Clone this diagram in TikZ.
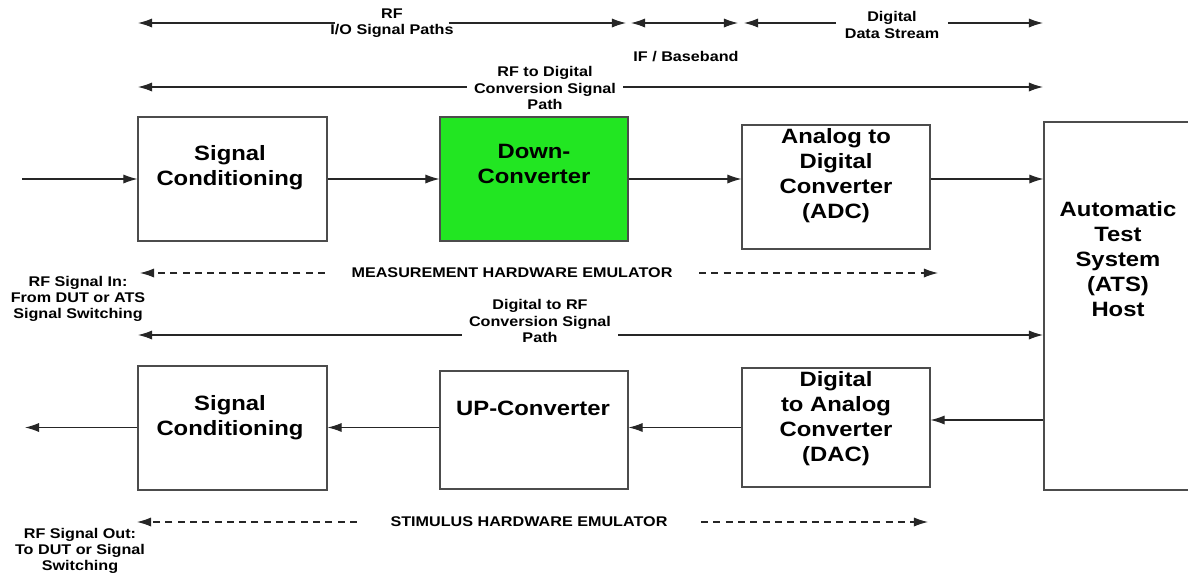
\documentclass[tikz,border=0pt]{standalone}
\usepackage{fontspec}
\setmainfont{Liberation Sans}[FakeStretch=1.15]
\usetikzlibrary{arrows.meta,calc}
\definecolor{dcgreen}{HTML}{22E622}
\begin{document}
\begin{tikzpicture}[x=0.02cm,y=-0.02cm,
  box/.style={draw=black!70,line width=0.7pt,rectangle,inner sep=0pt},
  boxtext/.style={font=\fontsize{11.8}{14.2}\selectfont\bfseries,align=center,inner sep=0pt},
  smalltxt/.style={font=\fontsize{8}{9.2}\selectfont\bfseries,align=center,inner sep=0pt},
  flow/.style={draw=black!85,line width=0.6pt,-{Latex[length=8pt,width=5.2pt]}},
  dimline/.style={draw=black!85,line width=0.6pt,-{Latex[length=8pt,width=5.2pt]}},
  dimboth/.style={draw=black!85,line width=0.6pt,{Latex[length=8pt,width=5.2pt]}-{Latex[length=8pt,width=5.2pt]}},
  dashedarrow/.style={dimline,dash pattern=on 4pt off 3pt},
]
\useasboundingbox (0,0) rectangle (1188,579);
\clip (0,0) rectangle (1188,579);

% boxes
\node[box,minimum width=3.78cm,minimum height=2.48cm] (sc1) at (232.5,179) {};
\node[boxtext] (sc1t) at (230,168) {Signal\\Conditioning};
\node[box,fill=dcgreen,minimum width=3.76cm,minimum height=2.48cm] (dc) at (534,179) {};
\node[boxtext] (dct) at (534,164) {Down-\\Converter};
\node[box,minimum width=3.76cm,minimum height=2.48cm] (adc) at (836,187) {};
\node[boxtext] (adct) at (836,176) {Analog to\\Digital\\Converter\\(ADC)};
\node[box,minimum width=3.04cm,minimum height=7.36cm] (ats) at (1120,306) {};
\node[boxtext] (atst) at (1118,259) {Automatic\\Test\\System\\(ATS)\\Host};
\node[box,minimum width=3.78cm,minimum height=2.48cm] (sc2) at (232.5,428) {};
\node[boxtext] (sc2t) at (230,418) {Signal\\Conditioning};
\node[box,minimum width=3.76cm,minimum height=2.36cm] (up) at (534,430) {};
\node[boxtext] (upt) at (533,408) {UP-Converter};
\node[box,minimum width=3.76cm,minimum height=2.38cm] (dac) at (836,427.5) {};
\node[boxtext] (dact) at (836,419) {Digital\\to Analog\\Converter\\(DAC)};

% main signal flow
\coordinate (in) at (22,179);
\draw[flow] (in) -- (sc1.west);
\draw[flow] (sc1.east) -- (dc.west);
\draw[flow] (dc.east) -- (adc.west |- dc.east);
\draw[flow] (adc.east |- dc.east) -- (ats.west |- dc.east);
\coordinate (yb) at (0,420);
\draw[flow] (ats.west |- yb) -- (dac.east |- yb);
\draw[flow] (dac.west) -- (up.east |- dac.west);
\draw[flow] (up.west |- dac.west) -- (sc2.east |- dac.west);
\coordinate (out) at (25,427.5);
\draw[flow] (sc2.west |- dac.west) -- (out);

% top dimension arrows
\coordinate (rfL) at (138,23);
\coordinate (rfR) at (626,23);
\node[smalltxt,inner xsep=-3pt] (rflab) at (392,23) {RF\\I/O Signal Paths};
\draw[dimline] (rflab.west |- rfL) -- (rfL);
\draw[dimline] (rflab.east |- rfR) -- (rfR);

\coordinate (ifL) at (631,23);
\coordinate (ifR) at (738,23);
\draw[dimboth] (ifL) -- (ifR);
\node[smalltxt] (iflab) at (686,57) {IF / Baseband};

\coordinate (ddL) at (744,23);
\coordinate (ddR) at (1043,23);
\node[smalltxt,inner xsep=4.8pt] (ddlab) at (892,25) {Digital\\Data Stream};
\draw[dimline] (ddlab.west |- ddL) -- (ddL);
\draw[dimline] (ddlab.east |- ddR) -- (ddR);

\coordinate (rdL) at (138,87);
\coordinate (rdR) at (1043,87);
\node[smalltxt,inner xsep=4pt] (rdlab) at (545,88) {RF to Digital\\Conversion Signal\\Path};
\draw[dimline] (rdlab.west |- rdL) -- (rdL);
\draw[dimline] (rdlab.east |- rdR) -- (rdR);

% measurement emulator
\coordinate (mL) at (140,273);
\coordinate (mR) at (938,273);
\node[smalltxt,inner xsep=15pt] (mlab) at (512,273) {MEASUREMENT HARDWARE EMULATOR};
\draw[dashedarrow] (mlab.west) -- (mL);
\draw[dashedarrow] (mlab.east) -- (mR);

\node[smalltxt] (rfin) at (78,299) {RF Signal In:\\From DUT or ATS\\Signal Switching};

% digital to RF
\coordinate (drL) at (138,335);
\coordinate (drR) at (1043,335);
\node[smalltxt,inner xsep=4pt] (drlab) at (540,321) {Digital to RF\\Conversion Signal\\Path};
\draw[dimline] (drlab.west |- drL) -- (drL);
\draw[dimline] (drlab.east |- drR) -- (drR);

% stimulus emulator
\coordinate (sL) at (137,522);
\coordinate (sR) at (928,522);
\node[smalltxt,inner xsep=19pt] (slab) at (529,522) {STIMULUS HARDWARE EMULATOR};
\draw[dashedarrow] (slab.west) -- (sL);
\draw[dashedarrow] (slab.east) -- (sR);

\node[smalltxt] (rfout) at (80,551) {RF Signal Out:\\To DUT or Signal\\Switching};
\end{tikzpicture}
\end{document}
